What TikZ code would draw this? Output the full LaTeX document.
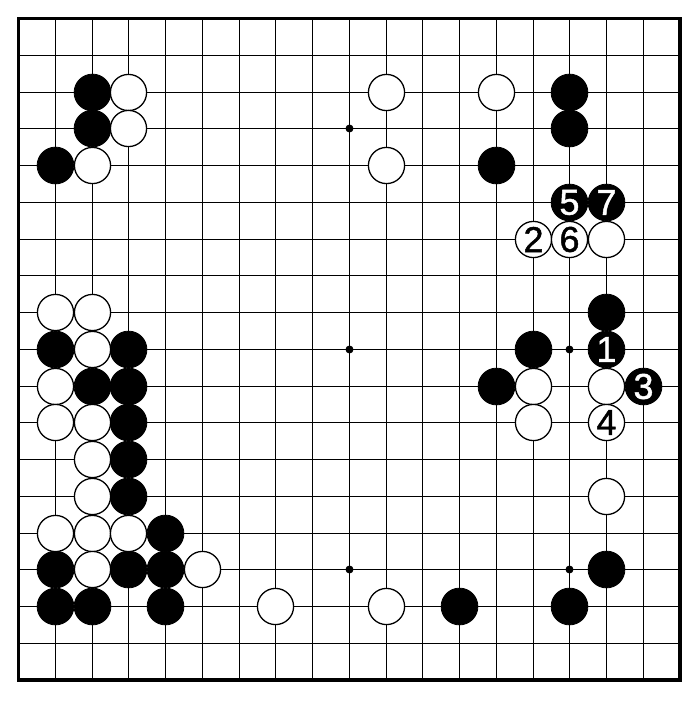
\documentclass[tikz,border=0pt]{standalone}
\usepackage{fontspec}
\setmainfont{Liberation Sans}
\newfontfamily\movefont[FakeBold=1.2]{Liberation Sans}
\begin{document}
\begin{tikzpicture}[x=1pt,y=-1pt,
  declare function={gp(\i)=round(18+36.75*\i)+0.5;},
  gridline/.style={line width=1.5pt},
  boardedge/.style={line width=3.5pt},
  bstone/.style={circle,fill=black,draw=black,line width=0.8pt,minimum size=36.8pt,inner sep=0pt,text=white,font=\movefont\fontsize{36}{36}\selectfont},
  wstone/.style={circle,fill=white,draw=black,line width=1.3pt,minimum size=36.2pt,inner sep=0pt,text=black,font=\movefont\fontsize{36}{36}\selectfont},
  hoshi/.style={circle,fill=black,inner sep=0pt,minimum size=8pt}]
\useasboundingbox (0,0) rectangle (700,701);
\fill[white] (0,0) rectangle (700,701);
\foreach \i in {1,...,17} {
  \draw[gridline] ({gp(\i)},18.5) -- ({gp(\i)},680);
  \draw[gridline] (18.5,{gp(\i)}) -- (680,{gp(\i)});
}
\draw[boardedge] (18.5,18.5) rectangle (680,680);
\foreach \c/\r [count=\k] in {9/3,9/9,9/15,15/9,15/15}
  \node[hoshi] (h\k) at ({gp(\c)},{gp(\r)}) {};
% black stones
\foreach \c/\r [count=\k] in {2/2,15/2,2/3,15/3,1/4,13/4,16/8,1/9,3/9,14/9,2/10,3/10,13/10,3/11,3/12,3/13,4/14,1/15,3/15,4/15,16/15,1/16,2/16,4/16,12/16,15/16}
  \node[bstone] (b\k) at ({gp(\c)},{gp(\r)}) {};
% white stones
\foreach \c/\r [count=\k] in {3/2,10/2,13/2,3/3,2/4,10/4,16/6,1/8,2/8,2/9,1/10,14/10,16/10,1/11,2/11,14/11,2/12,2/13,16/13,1/14,2/14,3/14,2/15,5/15,7/16,10/16}
  \node[wstone] (w\k) at ({gp(\c)},{gp(\r)}) {};
% numbered moves
\node[bstone] (m1) at ({gp(16)},{gp(9)}) {1};
\node[wstone] (m2) at ({gp(14)},{gp(6)}) {2};
\node[bstone] (m3) at ({gp(17)},{gp(10)}) {3};
\node[wstone] (m4) at ({gp(16)},{gp(11)}) {4};
\node[bstone] (m5) at ({gp(15)},{gp(5)}) {5};
\node[wstone] (m6) at ({gp(15)},{gp(6)}) {6};
\node[bstone] (m7) at ({gp(16)},{gp(5)}) {7};
\end{tikzpicture}
\end{document}
